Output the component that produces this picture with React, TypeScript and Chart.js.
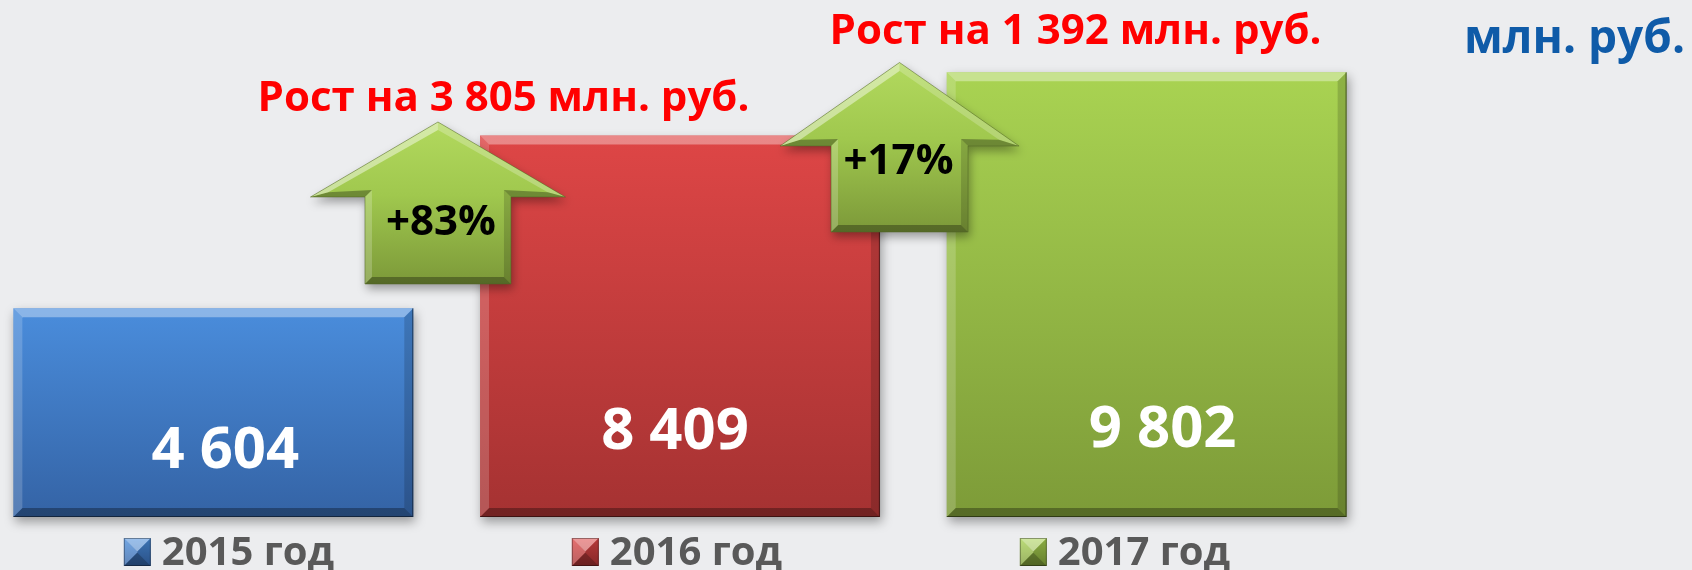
import React, { useEffect, useRef } from 'react';
import { Chart, registerables } from 'chart.js';

Chart.register(...registerables);

// ---- data ----
const categories = ['2015 год', '2016 год', '2017 год'];
const values = [4604, 8409, 9802];
const valueLabels = ['4 604', '8 409', '9 802'];
const growthPercents = ['+83%', '+17%'];
const growthTexts = ['Рост на 3 805 млн. руб.', 'Рост на 1 392 млн. руб.'];
const unitText = 'млн. руб.';

// ---- styles / layout ----
const PALETTE = [
  { top: '#4A8DDC', bottom: '#3463A5' },
  { top: '#DE4646', bottom: '#A53232' },
  { top: '#A9D352', bottom: '#7D9B38' },
];
const BG = '#ECEDEF';
const FONT = '"Open Sans", "Noto Sans", sans-serif';
const CANVAS_W = 1732;
const CANVAS_H = 570;
const CANVAS_LEFT = -40;
const VALUE_LABEL_POS = [
  { dx: 12, y: 468 },
  { dx: -5, y: 449 },
  { dx: 16, y: 447 },
];
const ARROWS = [
  { dx: -8.7, tipY: 122, baseY: 197, headHalf: 127.5, bodyHalf: 73, bottomY: 284, pctDx: 3, pctY: 235, textDx: 65.5, textY: 111 },
  { dx: -13.8, tipY: 62.5, baseY: 146, headHalf: 119.5, bodyHalf: 68.5, bottomY: 232, pctDx: -1, pctY: 174, textDx: 176, textY: 44 },
];
const LEGEND = { pitch: 448, box: 27, boxH: 28, gap: 11, boxY: 538, baseline: 565, shift: -3 };

type Pt = [number, number];

function tracePath(ctx: CanvasRenderingContext2D, pts: Pt[]) {
  ctx.beginPath();
  ctx.moveTo(pts[0][0], pts[0][1]);
  for (let i = 1; i < pts.length; i++) ctx.lineTo(pts[i][0], pts[i][1]);
  ctx.closePath();
}

function bevel(ctx: CanvasRenderingContext2D, pts: Pt[], b: number, lightA: number, darkA: number) {
  const n = pts.length;
  const inN: Pt[] = [];
  for (let i = 0; i < n; i++) {
    const p = pts[i];
    const q = pts[(i + 1) % n];
    const dx = q[0] - p[0];
    const dy = q[1] - p[1];
    const L = Math.hypot(dx, dy) || 1;
    inN.push([-dy / L, dx / L]);
  }
  const inset: Pt[] = pts.map((p, i) => {
    const n1 = inN[(i - 1 + n) % n];
    const n2 = inN[i];
    const d = 1 + n1[0] * n2[0] + n1[1] * n2[1];
    const k = b / Math.max(d, 0.2);
    return [p[0] + (n1[0] + n2[0]) * k, p[1] + (n1[1] + n2[1]) * k];
  });
  const lx = -0.45;
  const ly = -0.89;
  ctx.save();
  tracePath(ctx, pts);
  ctx.clip();
  for (let i = 0; i < n; i++) {
    const j = (i + 1) % n;
    const ox = -inN[i][0];
    const oy = -inN[i][1];
    const s = ox * lx + oy * ly;
    ctx.fillStyle = s > 0 ? `rgba(255,255,255,${(s * lightA).toFixed(3)})` : `rgba(0,0,0,${(-s * darkA).toFixed(3)})`;
    ctx.beginPath();
    ctx.moveTo(pts[i][0], pts[i][1]);
    ctx.lineTo(pts[j][0], pts[j][1]);
    ctx.lineTo(inset[j][0], inset[j][1]);
    ctx.lineTo(inset[i][0], inset[i][1]);
    ctx.closePath();
    ctx.fill();
  }
  ctx.restore();
}

function setShadow(ctx: CanvasRenderingContext2D) {
  ctx.shadowColor = 'rgba(0,0,0,0.35)';
  ctx.shadowBlur = 10;
  ctx.shadowOffsetX = 2;
  ctx.shadowOffsetY = 5;
}

const decorPlugin = {
  id: 'decor',
  beforeDatasetsDraw(chart: any) {
    const ctx = chart.ctx as CanvasRenderingContext2D;
    ctx.save();
    setShadow(ctx);
  },
  afterDatasetsDraw(chart: any) {
    const ctx = chart.ctx as CanvasRenderingContext2D;
    ctx.restore();
    const meta = chart.getDatasetMeta(0);
    meta.data.forEach((el: any) => {
      const { x, y, base, width } = el.getProps(['x', 'y', 'base', 'width'], true);
      const x0 = x - width / 2;
      const x1 = x + width / 2;
      const pts: Pt[] = [[x0, y], [x1, y], [x1, base], [x0, base]];
      bevel(ctx, pts, 9, 0.4, 0.35);
      ctx.save();
      ctx.strokeStyle = 'rgba(0,0,0,0.45)';
      ctx.lineWidth = 1.2;
      ctx.beginPath();
      ctx.moveTo(x1 - 0.5, y);
      ctx.lineTo(x1 - 0.5, base - 0.5);
      ctx.lineTo(x0, base - 0.5);
      ctx.stroke();
      ctx.restore();
    });

    // growth arrows
    const xs = chart.scales.x;
    ARROWS.forEach((a, i) => {
      const cx = (xs.getPixelForValue(i) + xs.getPixelForValue(i + 1)) / 2 + a.dx;
      const pts: Pt[] = [
        [cx, a.tipY],
        [cx + a.headHalf, a.baseY],
        [cx + a.bodyHalf, a.baseY],
        [cx + a.bodyHalf, a.bottomY],
        [cx - a.bodyHalf, a.bottomY],
        [cx - a.bodyHalf, a.baseY],
        [cx - a.headHalf, a.baseY],
      ];
      ctx.save();
      setShadow(ctx);
      const g = ctx.createLinearGradient(0, a.tipY, 0, a.bottomY);
      g.addColorStop(0, '#B2D95E');
      g.addColorStop(0.45, '#A0C84E');
      g.addColorStop(1, '#7C9939');
      ctx.fillStyle = g;
      tracePath(ctx, pts);
      ctx.fill();
      ctx.restore();
      bevel(ctx, pts, 7, 0.45, 0.35);
      ctx.save();
      ctx.strokeStyle = 'rgba(80,100,35,0.5)';
      ctx.lineWidth = 1;
      tracePath(ctx, pts);
      ctx.stroke();
      ctx.restore();
    });
  },
  afterDraw(chart: any) {
    const ctx = chart.ctx as CanvasRenderingContext2D;
    const xs = chart.scales.x;
    const area = chart.chartArea;
    const meta = chart.getDatasetMeta(0);
    ctx.save();
    ctx.textAlign = 'center';
    ctx.textBaseline = 'alphabetic';

    // value labels
    ctx.font = `bold 58px ${FONT}`;
    ctx.fillStyle = '#FFFFFF';
    meta.data.forEach((el: any, i: number) => {
      const p = VALUE_LABEL_POS[i];
      ctx.fillText(valueLabels[i], el.x + p.dx, p.y);
    });

    // arrow texts
    ARROWS.forEach((a, i) => {
      const cx = (xs.getPixelForValue(i) + xs.getPixelForValue(i + 1)) / 2 + a.dx;
      ctx.font = `bold 42px ${FONT}`;
      ctx.fillStyle = '#000000';
      ctx.fillText(growthPercents[i], cx + a.pctDx, a.pctY);
      ctx.font = `bold 42px ${FONT}`;
      ctx.fillStyle = '#FF0000';
      ctx.fillText(growthTexts[i], cx + a.textDx, a.textY);
    });

    // unit label
    ctx.font = `bold 46px ${FONT}`;
    ctx.fillStyle = '#0F5BA8';
    ctx.textAlign = 'right';
    ctx.fillText(unitText, chart.width - 7, 53);

    // legend
    ctx.font = `bold 40px ${FONT}`;
    ctx.textAlign = 'left';
    const center = (area.left + area.right) / 2 + LEGEND.shift;
    const n = categories.length;
    categories.forEach((cat, i) => {
      const tw = ctx.measureText(cat).width;
      const w = LEGEND.box + LEGEND.gap + tw;
      const ic = center + (i - (n - 1) / 2) * LEGEND.pitch;
      const sx = ic - w / 2;
      const pal = PALETTE[i];
      const g = ctx.createLinearGradient(0, LEGEND.boxY, 0, LEGEND.boxY + LEGEND.boxH);
      g.addColorStop(0, pal.top);
      g.addColorStop(1, pal.bottom);
      ctx.fillStyle = g;
      ctx.fillRect(sx, LEGEND.boxY, LEGEND.box, LEGEND.boxH);
      const bp: Pt[] = [
        [sx, LEGEND.boxY],
        [sx + LEGEND.box, LEGEND.boxY],
        [sx + LEGEND.box, LEGEND.boxY + LEGEND.boxH],
        [sx, LEGEND.boxY + LEGEND.boxH],
      ];
      bevel(ctx, bp, 13.5, 0.5, 0.4);
      ctx.strokeStyle = 'rgba(0,0,0,0.35)';
      ctx.lineWidth = 1;
      ctx.strokeRect(sx + 0.5, LEGEND.boxY + 0.5, LEGEND.box - 1, LEGEND.boxH - 1);
      ctx.fillStyle = '#595959';
      ctx.fillText(cat, sx + LEGEND.box + LEGEND.gap, LEGEND.baseline);
    });
    ctx.restore();
  },
};

export default function App() {
  const canvasRef = useRef<HTMLCanvasElement | null>(null);

  useEffect(() => {
    const canvas = canvasRef.current;
    if (!canvas) return;
    const chart = new Chart(canvas, {
      type: 'bar',
      data: {
        labels: categories,
        datasets: [
          {
            data: values,
            backgroundColor: (c: any) => {
              const pal = PALETTE[c.dataIndex ?? 0] || PALETTE[0];
              const ch = c.chart;
              if (!ch.chartArea || c.type !== 'data') return pal.top;
              const ys = ch.scales.y;
              const top = ys.getPixelForValue(c.raw);
              const bot = ys.getPixelForValue(0);
              const g = ch.ctx.createLinearGradient(0, top, 0, bot);
              g.addColorStop(0, pal.top);
              g.addColorStop(1, pal.bottom);
              return g;
            },
            borderWidth: 0,
            barPercentage: 0.857,
            categoryPercentage: 1,
            clip: false,
          } as any,
        ],
      },
      options: {
        responsive: false,
        animation: false,
        devicePixelRatio: 1,
        layout: { padding: { left: 20, right: 312, top: 18, bottom: 53 } },
        scales: {
          x: { display: false },
          y: { display: false, min: 0, max: 11000 },
        },
        plugins: {
          legend: { display: false },
          tooltip: { enabled: false },
        },
      },
      plugins: [decorPlugin as any],
    });
    return () => chart.destroy();
  }, []);

  return (
    <div
      style={{
        position: 'absolute',
        left: 0,
        top: 0,
        width: 1692,
        height: 570,
        overflow: 'hidden',
        background: BG,
      }}
    >
      <canvas
        ref={canvasRef}
        width={CANVAS_W}
        height={CANVAS_H}
        style={{ position: 'absolute', left: CANVAS_LEFT, top: 0, width: CANVAS_W, height: CANVAS_H, display: 'block' }}
      />
    </div>
  );
}
